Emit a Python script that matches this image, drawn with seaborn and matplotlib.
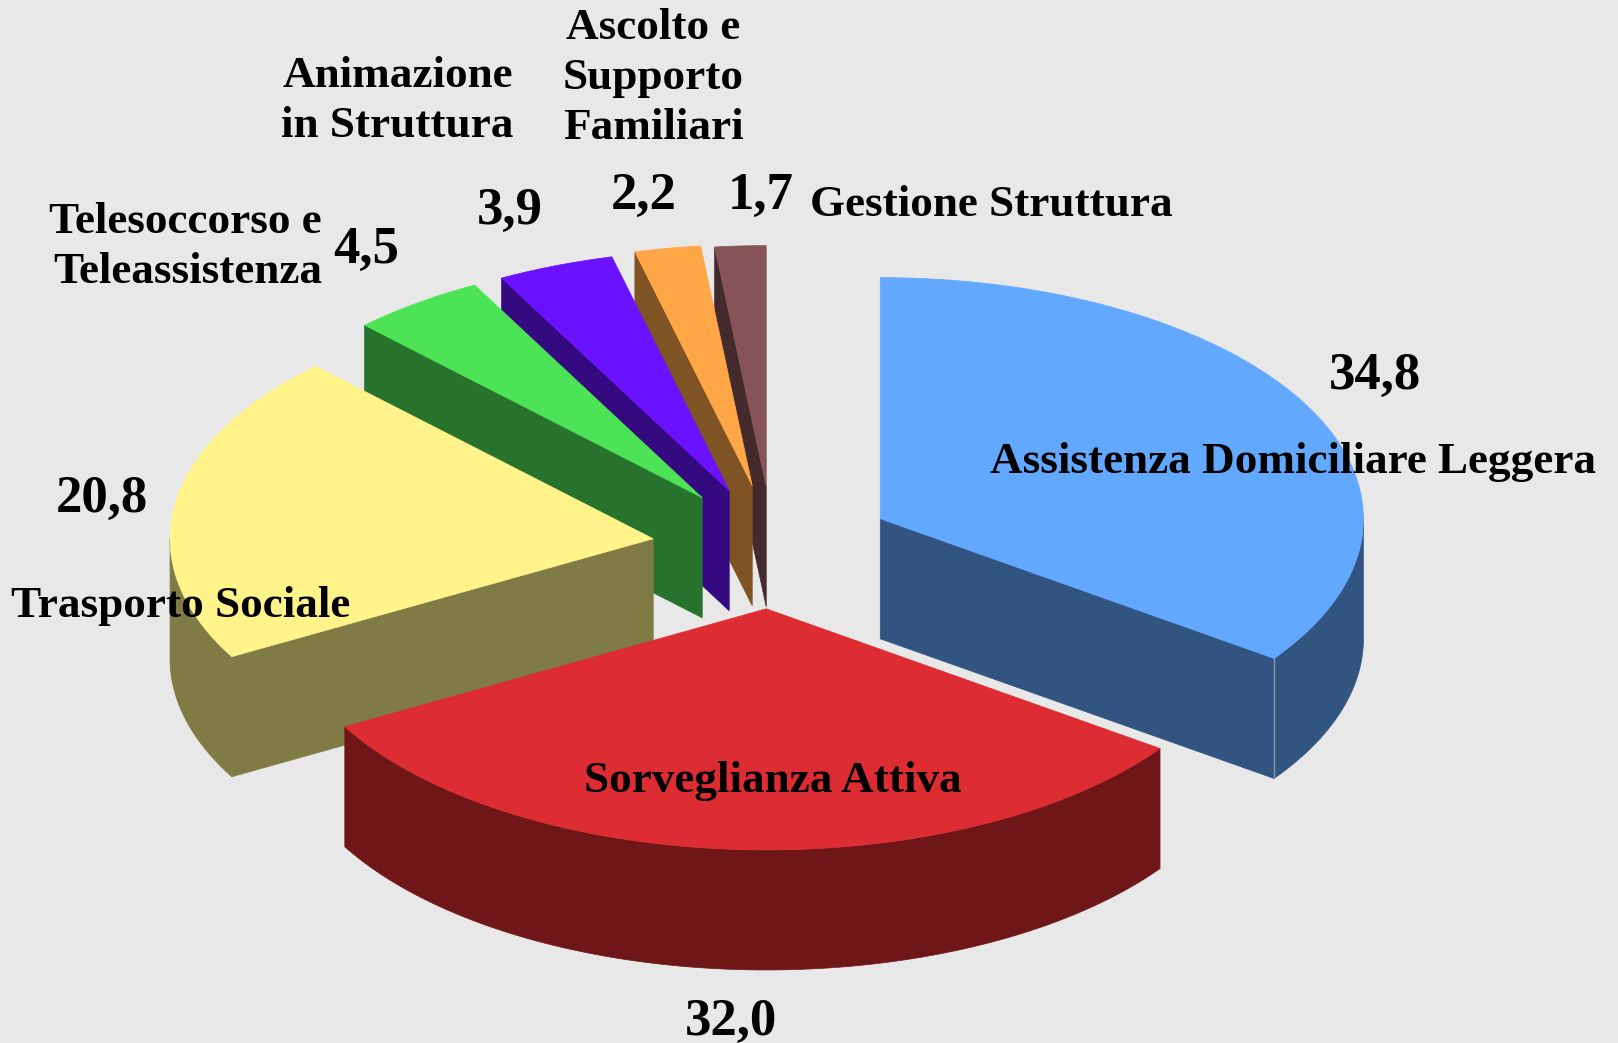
import numpy as np
import matplotlib
matplotlib.use("Agg")
import matplotlib.pyplot as plt
from matplotlib.patches import Polygon
import seaborn as sns

# dati
servizi = ["Assistenza Domiciliare Leggera", "Sorveglianza Attiva", "Trasporto Sociale",
           "Telesoccorso e\nTeleassistenza", "Animazione\nin Struttura",
           "Ascolto e\nSupporto\nFamiliari", "Gestione Struttura"]
valori = [34.8, 32.0, 20.8, 4.5, 3.9, 2.2, 1.7]
valori_txt = ["34,8", "32,0", "20,8", "4,5", "3,9", "2,2", "1,7"]
colori = ["#62A8FF", "#DD2C32", "#FFF38A", "#4DE357", "#6A12FF", "#FFA647", "#855358"]

# geometria della torta (pixel)
apice_x = [880, 766, 653, 702, 729, 752, 766]
apice_y = [519, 609, 539, 498, 491, 486, 487]
rx, ry, spessore = 483, 241, 120
ordine = [6, 5, 4, 3, 2, 0, 1]

# posizione testi
pos_label = [(1293, 462, "center"), (773, 781, "center"), (181, 606, "center"),
             (322, 247, "right"), (513, 101, "right"), (653, 78, "center"), (810, 205, "left")]
pos_val = [(1375, 376), (731, 1021), (102, 499), (366, 250), (510, 211), (643, 196), (760, 196)]

sfondo = "#E8E8E8"
sns.set_theme(style="white", rc={"figure.facecolor": sfondo, "axes.facecolor": sfondo})
plt.rcParams["font.family"] = ["Liberation Serif", "DejaVu Serif"]
palette = sns.color_palette(colori)


def bordo(cx, cy, a, b):
    # arco ellittico da a a b (gradi, orario da ore 12)
    t = np.radians(np.linspace(a, b, max(int(abs(b - a) * 2), 2)))
    return cx + rx * np.sin(t), cy - ry * np.cos(t)


fig = plt.figure(figsize=(16.185, 10.435), dpi=100)
ax = fig.add_axes([0, 0, 1, 1])
ax.set_xlim(0, 1618)
ax.set_ylim(1043, 0)
ax.axis("off")

gradi = np.array(valori) / sum(valori) * 360
fine = np.cumsum(gradi)
inizio = fine - gradi

for i in ordine:
    cx, cy = apice_x[i], apice_y[i]
    a, b = inizio[i], fine[i]
    chiaro = palette[i]
    scuro = tuple(c * 0.5 for c in chiaro)

    # facce di taglio
    for ang, visibile in ((a, 180 < a < 360), (b, 0 < b < 180)):
        if visibile:
            x, y = bordo(cx, cy, ang, ang)
            px, py = x[0], y[0]
            ax.add_patch(Polygon([(cx, cy), (px, py), (px, py + spessore), (cx, cy + spessore)],
                                 closed=True, fc=scuro, ec=scuro, lw=0.5))

    # bordo esterno, solo la parte verso chi guarda
    a2, b2 = max(a, 90), min(b, 270)
    if b2 > a2:
        x, y = bordo(cx, cy, a2, b2)
        pts = np.r_[np.c_[x, y], np.c_[x, y + spessore][::-1]]
        ax.add_patch(Polygon(pts, closed=True, fc=scuro, ec=scuro, lw=0.5))
        if i == 0:
            x0, y0 = bordo(cx, cy, b, b)
            ax.plot([x0[0], x0[0]], [y0[0], y0[0] + spessore], color="#8A9AAE", lw=1)

    # faccia superiore
    x, y = bordo(cx, cy, a, b)
    pts = np.r_[[(cx, cy)], np.c_[x, y]]
    ax.add_patch(Polygon(pts, closed=True, fc=chiaro, ec=chiaro, lw=0.5))

for nome, (x, y, al) in zip(servizi, pos_label):
    ax.text(x, y, nome, ha=al, va="center", ma=al, fontsize=32.5, fontweight="bold",
            color="black", linespacing=1.31)
for txt, (x, y) in zip(valori_txt, pos_val):
    ax.text(x, y, txt, ha="center", va="center", fontsize=38, fontweight="bold", color="black")

fig.savefig("out.png", dpi=100, facecolor=sfondo)
